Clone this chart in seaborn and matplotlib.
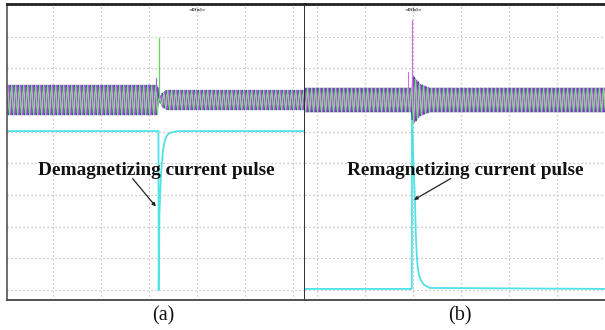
import numpy as np
import pandas as pd
import matplotlib
matplotlib.use("Agg")
import matplotlib.pyplot as plt
import seaborn as sns

sns.set_theme(style="white")
plt.rcParams['font.family'] = ['Liberation Serif', 'DejaVu Serif']

# ---------------- data (oscilloscope divisions) ----------------
Y_LIM = (-6.31, 3.03)
A_XLIM = (-0.96, 5.248)
B_XLIM = (-0.25, 6.0)
GRID_X = [0, 1, 2, 3, 4, 5]
GRID_Y = [-6, -5, -4, -3, -2, -1, 0, 1, 2, 3]

# phase-voltage band envelopes (half height, div)
a_env_t = [-0.96, 2.18, 2.205, 2.26, 2.36, 5.248]
a_env_amp = [0.47, 0.47, 0.0, 0.2, 0.31, 0.31]
b_env_t = [-0.25, 1.97, 1.99, 2.05, 2.15, 2.35, 6.0]
b_env_amp = [0.38, 0.38, 0.78, 0.68, 0.5, 0.38, 0.38]
carrier_cycles_per_div = 12.0
phase_names = ["Ua", "Ub", "Uc"]
phase_shift_deg = [0, 120, 240]

# current-pulse traces (cyan)
a_cyan_t = [-0.96, 2.195, 2.2, 2.215, 2.25, 2.29, 2.33, 2.38, 2.44, 2.6, 5.248]
a_cyan_v = [-0.98, -0.98, -6.0, -3.6, -2.3, -1.6, -1.26, -1.1, -1.03, -0.98, -0.98]
b_cyan_t = [-0.25, 1.975, 1.98, 2.0, 2.04, 2.06, 2.08, 2.10, 2.13, 2.17, 2.23, 2.35, 6.0]
b_cyan_v = [-5.96, -5.96, 0.0, -1.6, -3.15, -4.3, -4.95, -5.3, -5.55, -5.7, -5.83, -5.93, -5.96]

# spikes
a_green_t = [2.21, 2.21]
a_green_v = [0.0, 1.96]
a_mag_t = [2.15, 2.15]
a_mag_v = [0.3, 0.69]
b_mag_t = [1.98, 1.98]
b_mag_v = [0.3, 2.52]
b_mag2_t = [1.9, 1.9]
b_mag2_v = [0.3, 0.88]

labels = ["Demagnetizing current pulse", "Remagnetizing current pulse"]
panel_tags = ["(a)", "(b)"]

COL_CYAN = "#4fe3e6"
COL_PHASE = ["#2a2aa8", "#b24fd6", "#86d886"]
COL_GRID = "#b9b9b9"


def band_frame(xlim, env_t, env_amp):
    t = np.linspace(xlim[0], xlim[1], 9000)
    amp = np.interp(t, env_t, env_amp)
    rows = []
    for name, ph in zip(phase_names, phase_shift_deg):
        v = amp * np.sin(2 * np.pi * carrier_cycles_per_div * t + np.deg2rad(ph))
        rows.append(pd.DataFrame({"t": t, "v": v, "phase": name}))
    return pd.concat(rows, ignore_index=True)


W, H = 605, 330
fig = plt.figure(figsize=(W / 100, H / 100), dpi=100)
ax_a = fig.add_axes([7 / W, 30 / H, 298 / W, 296 / H])
ax_b = fig.add_axes([305 / W, 30 / H, 300 / W, 296 / H])

for ax, xlim in ((ax_a, A_XLIM), (ax_b, B_XLIM)):
    ax.set_xlim(*xlim)
    ax.set_ylim(*Y_LIM)
    ax.set_xticks(GRID_X)
    ax.set_yticks(GRID_Y)
    ax.set_xticklabels([])
    ax.set_yticklabels([])
    ax.tick_params(length=0)
    ax.grid(True, color=COL_GRID, linestyle=(0, (1, 2.2)), linewidth=0.9)
    ax.set_facecolor("white")

# cyan current traces
sns.lineplot(x=a_cyan_t, y=a_cyan_v, ax=ax_a, color=COL_CYAN, lw=1.3, sort=False, estimator=None)
sns.lineplot(x=b_cyan_t, y=b_cyan_v, ax=ax_b, color=COL_CYAN, lw=1.3, sort=False, estimator=None)

# voltage bands
for ax, xlim, et, ea in ((ax_a, A_XLIM, a_env_t, a_env_amp), (ax_b, B_XLIM, b_env_t, b_env_amp)):
    df = band_frame(xlim, et, ea)
    sns.lineplot(data=df, x="t", y="v", hue="phase", palette=COL_PHASE, ax=ax,
                 lw=0.7, sort=False, estimator=None, legend=False)

# spikes
sns.lineplot(x=a_mag_t, y=a_mag_v, ax=ax_a, color=COL_PHASE[1], lw=0.8, sort=False, estimator=None)
sns.lineplot(x=a_green_t, y=a_green_v, ax=ax_a, color="#5cd85c", lw=0.9, sort=False, estimator=None)
sns.lineplot(x=b_mag_t, y=b_mag_v, ax=ax_b, color="#d070e0", lw=0.9, sort=False, estimator=None)
sns.lineplot(x=b_mag2_t, y=b_mag2_v, ax=ax_b, color="#d070e0", lw=0.8, sort=False, estimator=None)

for ax, xlim in ((ax_a, A_XLIM), (ax_b, B_XLIM)):
    ax.set_xlim(*xlim)
    ax.set_ylim(*Y_LIM)
    ax.set_xlabel("")
    ax.set_ylabel("")

# spines
for sp in ax_a.spines.values():
    sp.set_visible(True)
ax_a.spines["left"].set_color("#555555"); ax_a.spines["left"].set_linewidth(1.2)
ax_a.spines["top"].set_color("#222222"); ax_a.spines["top"].set_linewidth(2.0)
ax_a.spines["bottom"].set_color("#444444"); ax_a.spines["bottom"].set_linewidth(1.3)
ax_a.spines["right"].set_color("#222222"); ax_a.spines["right"].set_linewidth(1.3)
ax_b.spines["left"].set_visible(False)
ax_b.spines["right"].set_visible(False)
ax_b.spines["top"].set_color("#222222"); ax_b.spines["top"].set_linewidth(2.0)
ax_b.spines["bottom"].set_color("#444444"); ax_b.spines["bottom"].set_linewidth(1.3)

# tiny trigger markers at top
ax_a.text(3.0, 2.85, "<0(a)>", fontsize=3.2, ha="center", va="center", color="#333333",
          family="DejaVu Sans", fontweight="bold")
ax_b.text(2.0, 2.85, "<0(b)>", fontsize=3.2, ha="center", va="center", color="#333333",
          family="DejaVu Sans", fontweight="bold")

# annotations
ax_a.annotate(labels[0], xy=(2.14, -3.36), xytext=(2.15, -2.21), ha="center", va="center",
              fontsize=13.9, fontweight="bold", color="#111111",
              arrowprops=dict(arrowstyle="-|>", color="#222222", lw=0.9, mutation_scale=5,
                              shrinkA=0, shrinkB=0, patchA=None,
                              relpos=(0.40, 0.0)))
ax_b.annotate(labels[1], xy=(2.02, -3.15), xytext=(3.08, -2.21), ha="center", va="center",
              fontsize=13.9, fontweight="bold", color="#111111",
              arrowprops=dict(arrowstyle="-|>", color="#222222", lw=0.9, mutation_scale=5,
                              shrinkA=0, shrinkB=0, patchA=None,
                              relpos=(0.44, 0.0)))

fig.text(163 / W, 1 - 316 / H, panel_tags[0], fontsize=14.5, ha="center", va="center", color="#111111")
fig.text(460 / W, 1 - 316 / H, panel_tags[1], fontsize=14.5, ha="center", va="center", color="#111111")

fig.savefig("out.png", dpi=100, facecolor="white")
